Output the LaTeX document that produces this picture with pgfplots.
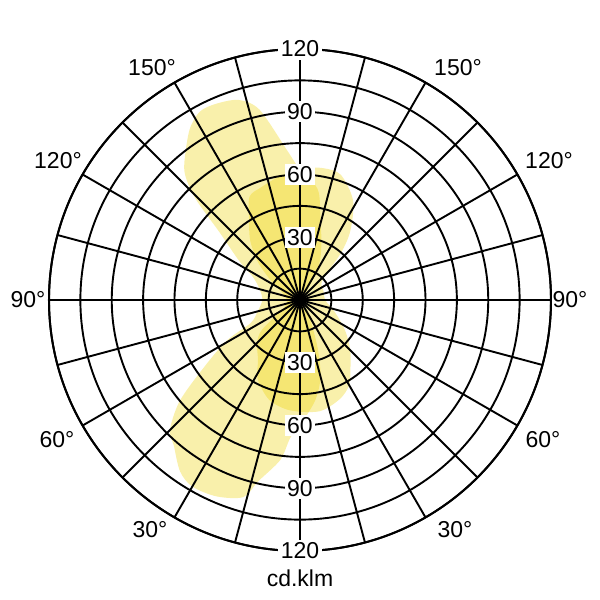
\documentclass[border=0pt]{standalone}
\usepackage{fontspec}
\setmainfont{Liberation Sans}
\usepackage{pgfplots}
\pgfplotsset{compat=1.18}
\usepgfplotslibrary{polar}
\definecolor{lobe}{RGB}{237,210,0}

\begin{document}
\begin{tikzpicture}[font=\fontsize{11.5}{13}\selectfont]
\path[use as bounding box] (-150pt,-150pt) rectangle (150pt,150pt);
\begin{polaraxis}[
    at={(0,0)}, anchor=center,
    width=251pt, height=251pt, scale only axis,
    xmin=0, xmax=360, ymin=0, ymax=120,
    xtick={0,30,...,330},
    minor xtick={15,45,...,345},
    ytick={15,30,...,120},
    xticklabels={},
    yticklabels={},
    xticklabel style={opacity=0},
    yticklabel style={opacity=0},
    grid=both,
    major grid style={black, line width=0.95pt},
    minor grid style={black, line width=0.95pt},
    axis line style={black, line width=1pt},
    tick style={draw=none},
    axis on top,
  ]
  % C-plane 1 (large lobes to the left)
  \addplot[draw=none, fill=lobe, fill opacity=0.33, smooth] coordinates {
    (50,2) (58,12) (63,21) (70,30) (75,38) (80,52) (85,58) (91,64) (95,72)
    (102,93) (107,100) (113,102) (118,102) (123,97) (130,86) (133,80) (136,69)
    (140,50) (147,35) (154,25) (165,20) (180,18) (195,21) (205,26) (209,40)
    (215,56) (220,75) (225,88) (229,92) (235,100) (240,103) (247,102) (254,98)
    (257,89) (263,77) (266,66) (272,57) (279,48) (285,38) (290,25) (297,11) (305,2)
  } -- cycle;
  % C-plane 2 (smaller, near vertical)
  \addplot[draw=none, fill=lobe, fill opacity=0.33, smooth] coordinates {
    (-155,8) (-142,23) (-135,29) (-125,35) (-118,43) (-107,50) (-95,53) (-80,54)
    (-68,51) (-60,47) (-54,41) (-45,34) (-34,26) (-20,18) (0,12) (20,12) (38,13)
    (45,18) (49,30) (54,41) (62,54) (72,63) (80,64) (88,63) (99,60) (109,57)
    (116,55) (122,46) (130,37) (138,27) (146,17) (155,10) (180,6)
  } -- cycle;
  \coordinate (t30) at (axis cs:90,30);
  \coordinate (t60) at (axis cs:90,60);
  \coordinate (t90) at (axis cs:90,90);
  \coordinate (t120) at (axis cs:90,120);
  \coordinate (b30) at (axis cs:270,30);
  \coordinate (b60) at (axis cs:270,60);
  \coordinate (b90) at (axis cs:270,90);
  \coordinate (b120) at (axis cs:270,120);
  \coordinate (unit) at (axis cs:270,133);
\end{polaraxis}
% intensity values on the vertical axis
\foreach \p/\v in {t30/30,t60/60,t90/90,t120/120,b30/30,b60/60,b90/90,b120/120}
  \node[fill=white, inner sep=1.2pt] at (\p) {\v};
\node at (unit) {cd.klm};
% gamma angles round the outer circle
\node at (-74,116pt) {};
\foreach \x/\y/\t in {-74/116/150,79/116/150,-121/69.5/120,124.5/69.5/120,
    -136/0/90,135/0/90,-121.5/-70/60,121.5/-70/60,-75/-115/30,77.5/-115/30}
  \node at (\x pt,\y pt) {\t°};
\end{tikzpicture}
\end{document}
